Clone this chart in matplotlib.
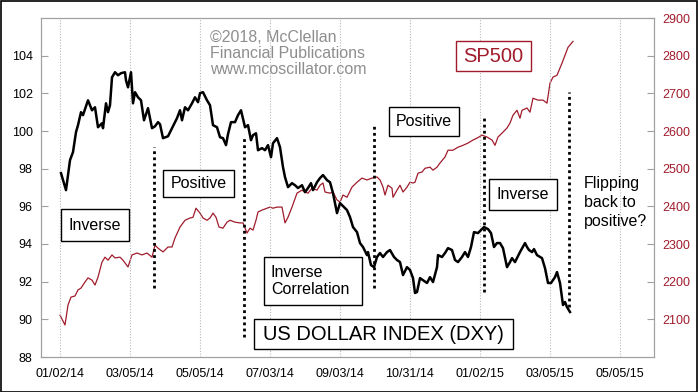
import matplotlib
matplotlib.use("Agg")
import matplotlib.pyplot as plt
from matplotlib.patches import Rectangle

plt.rcParams['font.family'] = ['Liberation Sans', 'DejaVu Sans']

# trading-day index -> value
dxy_day = [0.6, 3.6, 6, 7.8, 9.6, 10.8, 12.6, 13.8, 16.8, 19.2, 21, 22.8, 25.2, 25.8, 27.6, 28.8, 30,
           31.2, 33, 34.8, 36.6, 39, 39.6, 40.8, 42.6, 43.8, 45, 46.8, 48.6, 50.4, 52.8, 55.2, 57,
           58.8, 60, 61.8, 64.8, 67.2, 70.2, 72, 73.2, 75, 76.8, 79.2, 81, 82.8, 84, 85.8, 88.2, 90,
           91.8, 94.2, 96, 97.8, 99.6, 100.8, 102.6, 105, 106.8, 108.6, 111, 112.8, 114.6, 115.8,
           117.6, 118.8, 121.2, 123, 124.8, 126.6, 127.8, 130.2, 132, 133.8, 135, 136.8, 139.2, 141,
           142.8, 145.2, 147, 148.8, 150.6, 151.8, 154.2, 156, 157.8, 160.2, 162, 163.8, 166.2, 168,
           169.8, 172.2, 174, 175.8, 178.2, 180, 181.8, 184.2, 184.8, 186.6, 188.4, 190.2, 192, 193.8,
           196.2, 198, 200.4, 202.2, 204, 205.8, 208.2, 210, 211.8, 213, 214.2, 216, 217.8, 220.2,
           222, 223.8, 226.2, 226.8, 229.2, 231, 232.8, 235.2, 237, 238.8, 241.2, 243, 244.8, 246.6,
           248.4, 250.8, 252.6, 254.4, 256.8, 258.6, 260.4, 262.2, 264, 265.8, 268.2, 270, 271.2,
           273, 276, 279, 280.2, 281.4, 283.2, 284.4, 286.2, 289.2, 291, 292.8, 294.6, 297, 298.2,
           300, 301.8, 303, 304.2, 306]
dxy_val = [97.76, 96.86, 98.45, 98.88, 99.94, 100.31, 101.0, 100.84, 101.63, 101.10, 101.26, 100.20,
           100.41, 100.15, 101.47, 101.0, 101.37, 102.85, 103.12, 102.96, 103.07, 103.12, 102.69,
           102.32, 103.12, 101.47, 102.06, 101.79, 101.63, 100.57, 101.21, 100.15, 100.25, 100.47,
           100.36, 99.62, 99.72, 100.15, 100.68, 101.10, 100.57, 101.26, 101.10, 101.47, 101.79,
           101.53, 102.01, 102.06, 101.63, 101.37, 100.31, 100.20, 99.67, 99.62, 99.25, 99.83,
           100.47, 100.47, 100.84, 101.10, 100.20, 100.31, 99.51, 99.78, 99.88, 98.98, 99.09, 98.98,
           99.25, 98.61, 99.35, 99.62, 99.14, 98.08, 97.55, 97.02, 97.23, 97.12, 96.97, 97.12, 96.75,
           96.97, 97.23, 96.86, 97.28, 97.50, 97.66, 97.39, 97.28, 96.70, 95.64, 96.17, 96.01, 95.80,
           95.43, 94.90, 94.63, 94.05, 93.84, 93.41, 93.57, 92.88, 92.77, 93.31, 93.52, 93.31, 93.57,
           93.68, 93.31, 93.15, 93.04, 92.35, 92.77, 92.62, 92.19, 91.40, 91.45, 92.19, 92.08, 91.93,
           92.24, 91.98, 92.77, 93.41, 93.31, 93.52, 93.78, 93.68, 93.15, 93.04, 93.31, 93.57, 93.31,
           93.84, 94.63, 94.58, 94.74, 94.90, 94.79, 94.58, 93.84, 94.05, 94.05, 93.78, 92.77, 93.04,
           93.25, 93.04, 93.57, 94.05, 93.84, 93.68, 93.57, 93.73, 93.41, 93.25, 92.72, 91.93, 91.93,
           92.24, 92.51, 91.93, 90.76, 90.92, 90.65, 90.39]

spx_day = [0, 3, 4.8, 6.6, 9, 10.8, 12.6, 15, 16.8, 19.2, 21, 22.8, 25.2, 27, 28.8, 31.2, 33, 36,
           37.8, 40.8, 43.2, 46.2, 49.2, 52.2, 55.2, 57, 58.8, 61.8, 64.8, 67.2, 69, 72, 75, 78, 79.8,
           81.6, 84, 85.8, 88.2, 90, 91.8, 93.6, 95.4, 97.8, 100.2, 102, 105, 108, 109.8, 112.2, 114,
           115.8, 117.6, 118.8, 121.2, 124.2, 126, 127.8, 130.2, 133.2, 135, 136.8, 139.2, 142.2,
           145.2, 147, 148.8, 151.2, 154.2, 156, 157.8, 159, 162, 163.8, 166.2, 168, 169.8, 172.2,
           175.2, 178.2, 181.2, 184.2, 187.2, 190.2, 192, 193.8, 195, 196.8, 199.2, 199.8, 202.2, 204,
           205.8, 208.2, 210, 211.8, 213, 214.8, 217.2, 219, 222, 223.8, 226.2, 228, 231, 232.8,
           235.8, 238.8, 241.8, 244.8, 247.8, 250.2, 253.2, 256.2, 259.2, 261, 262.8, 265.8, 268.2,
           270, 271.8, 274.2, 276, 277.2, 280.2, 282, 283.8, 286.8, 289.8, 292.2, 294, 295.8, 298.2,
           301.2, 303, 304.8, 307.8]
spx_val = [2111, 2085, 2138, 2159, 2162, 2178, 2183, 2199, 2210, 2204, 2191, 2212, 2252, 2265, 2257,
           2271, 2263, 2265, 2257, 2239, 2271, 2276, 2271, 2276, 2265, 2297, 2289, 2279, 2292, 2292,
           2316, 2345, 2363, 2369, 2371, 2395, 2382, 2369, 2363, 2369, 2382, 2371, 2345, 2342, 2358,
           2363, 2358, 2356, 2356, 2329, 2342, 2337, 2363, 2385, 2390, 2395, 2398, 2395, 2398, 2398,
           2356, 2371, 2398, 2435, 2443, 2438, 2435, 2448, 2443, 2456, 2462, 2438, 2435, 2438, 2417,
           2411, 2430, 2424, 2451, 2464, 2475, 2470, 2475, 2478, 2470, 2451, 2430, 2456, 2448, 2424,
           2443, 2456, 2438, 2451, 2464, 2462, 2464, 2488, 2491, 2501, 2504, 2496, 2504, 2515, 2531,
           2549, 2549, 2557, 2562, 2568, 2576, 2581, 2589, 2584, 2576, 2562, 2584, 2597, 2608, 2621,
           2642, 2655, 2634, 2655, 2661, 2650, 2687, 2682, 2682, 2674, 2727, 2743, 2748, 2780, 2801,
           2822, 2838]

tick_days = [0, 42, 84, 126, 168, 210, 252, 294, 336]
tick_labels = ['01/02/14', '03/05/14', '05/05/14', '07/03/14', '09/03/14', '10/31/14',
               '01/02/15', '03/05/15', '05/05/15']

# dotted regime-change markers: day, bottom, top (DXY scale)
marker_day = [56.4, 110.4, 188.4, 254.4, 305.4]
marker_lo = [91.66, 89.06, 91.66, 91.45, 90.65]
marker_hi = [99.14, 99.67, 100.36, 100.79, 102.06]

red = '#a01c2c'
grey = '#a0a0a0'

W, H = 698, 392
fig = plt.figure(figsize=(W / 100, H / 100), dpi=100)
ax = fig.add_axes([41 / W, 1 - 357 / H, 613 / W, 339 / H])
ax2 = ax.twinx()
ax.set_zorder(ax2.get_zorder() + 1)
ax.patch.set_visible(False)

ax2.plot(spx_day, spx_val, color=red, lw=0.9)
ax.plot(dxy_day, dxy_val, color='black', lw=1.8)
for d, lo, hi in zip(marker_day, marker_lo, marker_hi):
    ax.plot([d, d], [lo, hi], color='black', lw=2, linestyle=(0, (1, 1.2)))

ax.set_xlim(-11.4, 356.4)
ax.set_ylim(88, 106)
ax2.set_ylim(2000, 2900)
ax.set_yticks(range(88, 106, 2))
ax2.set_yticks(range(2100, 2901, 100))
ax.set_xticks(tick_days)
ax.set_xticklabels(tick_labels)
ax.grid(axis='x', color='#b8b8b8', linestyle=(0, (1, 1.5)), lw=0.8)

for a in (ax, ax2):
    for s in a.spines.values():
        s.set_color(grey)
        s.set_linewidth(0.8)
ax.tick_params(axis='x', length=0, pad=8, labelsize=9)
ax.tick_params(axis='y', direction='in', length=5, color=grey, labelsize=9, pad=6)
ax2.tick_params(axis='y', direction='in', length=5, color=grey, labelsize=9, pad=6,
                labelcolor=red)


def px(x, y):
    return x / W, 1 - y / H


def box(x0, y0, x1, y1, text, size=11.5, color='black', ha='center', tx=None):
    fx, fy = px(x0, y1)
    fig.patches.append(Rectangle((fx, fy), (x1 - x0) / W, (y1 - y0) / H,
                                 transform=fig.transFigure, facecolor='white',
                                 edgecolor=color, lw=1, zorder=5))
    if ha == 'center':
        cx, cy = px((x0 + x1) / 2, (y0 + y1) / 2)
    else:
        cx, cy = px(tx, (y0 + y1) / 2)
    fig.text(cx, cy, text, ha=ha, va='center', fontsize=size, color=color,
             zorder=6, linespacing=1.2)


box(61, 209, 129, 241, 'Inverse')
box(163, 170, 234, 197, 'Positive')
box(389, 107, 459, 136, 'Positive')
box(264, 257, 362, 305, 'Inverse\nCorrelation', ha='left', tx=271)
box(489, 179, 557, 210, 'Inverse')
box(254, 319, 513, 349, 'US DOLLAR INDEX (DXY)', size=14.5)
box(456, 41, 531, 71, 'SP500', size=14.5, color=red)

fig.text(*px(584, 176), 'Flipping\nback to\npositive?', ha='left', va='top', fontsize=11.5,
         linespacing=1.35)
fig.text(*px(210, 30), '\u00a92018, McClellan\nFinancial Publications\nwww.mcoscillator.com',
         ha='left', va='top', fontsize=11.5, color='#8e8e8e', linespacing=1.08)

fig.patches.append(Rectangle((0.5 / W, 0.5 / H), 1 - 1.5 / W, 1 - 1.5 / H,
                             transform=fig.transFigure, fill=False, edgecolor='black', lw=1.2))

fig.savefig('out.png', dpi=100)
